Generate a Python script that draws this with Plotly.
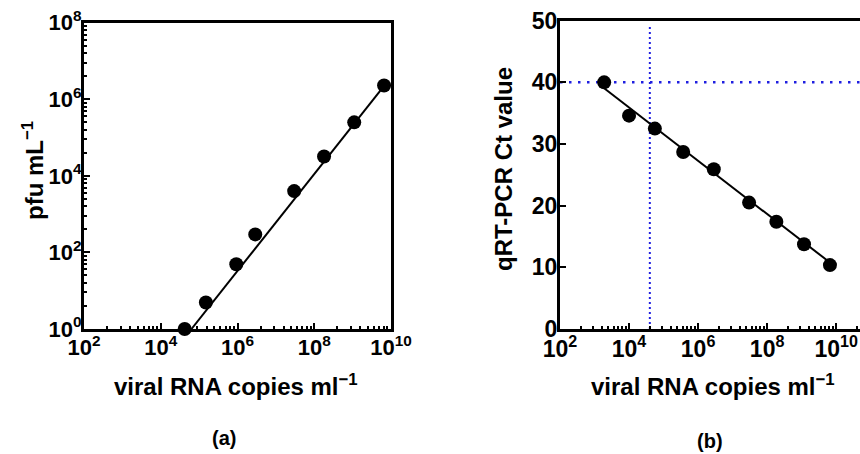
import numpy as np
import plotly.graph_objects as go

# ---------------- data ----------------
# panel (a): pfu vs viral RNA copies
a_rna = [4.2e4, 1.5e5, 9.3e5, 2.9e6, 3.0e7, 1.8e8, 1.1e9, 6.6e9]
a_pfu = [1.0, 4.9, 49, 296, 4000, 3.2e4, 2.5e5, 2.3e6]
a_fit_slope = 1.265          # log10(pfu) per log10(copies)
a_fit_x0 = 4.80              # log10(copies) where fit reaches pfu = 1
a_fit_xrange = [4.80, 9.82]  # log10 extent of fitted line

# panel (b): Ct value vs viral RNA copies
b_rna = [1.9e3, 1.0e4, 5.6e4, 3.7e5, 2.85e6, 3.0e7, 1.85e8, 1.17e9, 6.6e9]
b_ct = [40.0, 34.6, 32.5, 28.7, 25.9, 20.5, 17.4, 13.75, 10.36]
b_fit_slope = -4.32
b_fit_intercept = 53.2
b_fit_xrange = [3.27, 9.82]
lod_ct = 40
lod_rna = 4.0e4
lod_ct_top = 49.4

x_major_exp = [2, 4, 6, 8, 10]
a_y_major_exp = [0, 2, 4, 6, 8]
b_y_ticks = [0, 10, 20, 30, 40, 50]

# ---------------- figure geometry ----------------
W, H = 860, 454
ML, MR, MT, MB = 84, 0, 18, 125
PW, PH = W - ML - MR, H - MT - MB


def px_x(p):
    return (p - ML) / PW


def px_y(p):
    return (H - MB - p) / PH


FONT = "Liberation Sans, Arial, sans-serif"


def sup_labels(exps):
    return ["10<sup>%d</sup>" % e for e in exps]


def minor_vals(exps):
    vals = []
    for e in exps:
        for k in range(2, 10):
            vals.append((k * k) * 10.0 ** e)
    return vals


fig = go.Figure()

# panel (a) fit line
ax_fit = np.array(a_fit_xrange)
fig.add_trace(go.Scatter(
    x=10 ** ax_fit, y=10 ** (a_fit_slope * (ax_fit - a_fit_x0)),
    mode="lines", line=dict(color="black", width=2),
    xaxis="x", yaxis="y", showlegend=False, hoverinfo="skip"))
fig.add_trace(go.Scatter(
    x=a_rna, y=a_pfu, mode="markers",
    marker=dict(color="black", size=14),
    xaxis="x", yaxis="y", showlegend=False, cliponaxis=False))

# panel (b) LOD dotted lines
fig.add_trace(go.Scatter(
    x=[10 ** 2, 10 ** 10.69], y=[lod_ct, lod_ct], mode="lines",
    line=dict(color="#1f1fe0", width=2.5, dash="2.5px,6.5px"),
    xaxis="x2", yaxis="y2", showlegend=False, hoverinfo="skip"))
fig.add_trace(go.Scatter(
    x=[lod_rna, lod_rna], y=[0, lod_ct_top], mode="lines",
    line=dict(color="#1f1fe0", width=2, dash="2px,3px"),
    xaxis="x2", yaxis="y2", showlegend=False, hoverinfo="skip"))
# panel (b) fit line
bx_fit = np.array(b_fit_xrange)
fig.add_trace(go.Scatter(
    x=10 ** bx_fit, y=b_fit_intercept + b_fit_slope * bx_fit,
    mode="lines", line=dict(color="black", width=2),
    xaxis="x2", yaxis="y2", showlegend=False, hoverinfo="skip"))
fig.add_trace(go.Scatter(
    x=b_rna, y=b_ct, mode="markers",
    marker=dict(color="black", size=14),
    xaxis="x2", yaxis="y2", showlegend=False, cliponaxis=False))

tick_common = dict(showgrid=False, zeroline=False, showline=True,
                   linecolor="black", linewidth=3, ticks="inside",
                   tickcolor="black", tickwidth=2, ticklen=6,
                   automargin=False)

fig.update_layout(
    width=W, height=H, autosize=False,
    margin=dict(l=ML, r=MR, t=MT, b=MB),
    plot_bgcolor="white", paper_bgcolor="white",
    font=dict(family=FONT, color="black"),
    xaxis=dict(type="log", range=[2, 10], domain=[0, px_x(391)],
               anchor="y", mirror=True, ticklabelstandoff=-3,
               tickmode="array", tickvals=[10.0 ** e for e in x_major_exp],
               ticktext=sup_labels(x_major_exp),
               tickfont=dict(size=22, weight="bold", family=FONT),
               minor=dict(tickmode="array", tickvals=minor_vals(x_major_exp[:-1]),
                          ticks="inside", ticklen=3, tickwidth=2, tickcolor="black"),
               **tick_common),
    yaxis=dict(type="log", range=[0, 8], domain=[0, px_y(22.7)],
               anchor="x", mirror=True, ticklabelstandoff=-5,
               tickmode="array", tickvals=[10.0 ** e for e in a_y_major_exp],
               ticktext=sup_labels(a_y_major_exp),
               tickfont=dict(size=22, weight="bold", family=FONT),
               minor=dict(tickmode="array", tickvals=minor_vals(a_y_major_exp[:-1]),
                          ticks="inside", ticklen=3, tickwidth=2, tickcolor="black"),
               **tick_common),
    xaxis2=dict(type="log", range=[2, 10.69], domain=[px_x(560), 1],
                anchor="y2", mirror=True, ticklabelstandoff=-3,
                tickmode="array", tickvals=[10.0 ** e for e in x_major_exp],
                ticktext=sup_labels(x_major_exp),
                tickfont=dict(size=23, weight="bold", family=FONT),
                minor=dict(tickmode="array", tickvals=minor_vals(x_major_exp),
                           ticks="inside", ticklen=3, tickwidth=2, tickcolor="black"),
                **tick_common),
    yaxis2=dict(range=[0, 50], domain=[0, px_y(20.7)], anchor="x2",
                mirror=False, ticklabelstandoff=-5,
                tickmode="array", tickvals=b_y_ticks,
                tickfont=dict(size=23, weight="bold", family=FONT),
                **tick_common),
)

ann_font = dict(family=FONT, size=24, color="black", weight="bold")
annotations = [
    dict(text="viral RNA copies ml<sup>−1</sup>", x=px_x(236), y=px_y(385)),
    dict(text="viral RNA copies ml<sup>−1</sup>", x=px_x(713), y=px_y(385)),
    dict(text="pfu mL<sup>−1</sup>", x=px_x(33), y=px_y(171), textangle=-90),
    dict(text="qRT-PCR Ct value", x=px_x(503), y=px_y(169), textangle=-90),
    dict(text="(a)", x=px_x(224), y=px_y(438), font=dict(family=FONT, size=20, color="black", weight="bold")),
    dict(text="(b)", x=px_x(710), y=px_y(441), font=dict(family=FONT, size=20, color="black", weight="bold")),
]
for a in annotations:
    a.setdefault("font", ann_font)
    fig.add_annotation(xref="paper", yref="paper", showarrow=False,
                       xanchor="center", yanchor="middle", **a)

fig.write_html("out.html",
               config={"responsive": False, "displayModeBar": False},
               post_script="document.body.style.margin='0';document.body.style.padding='0';document.body.style.overflow='hidden';")
